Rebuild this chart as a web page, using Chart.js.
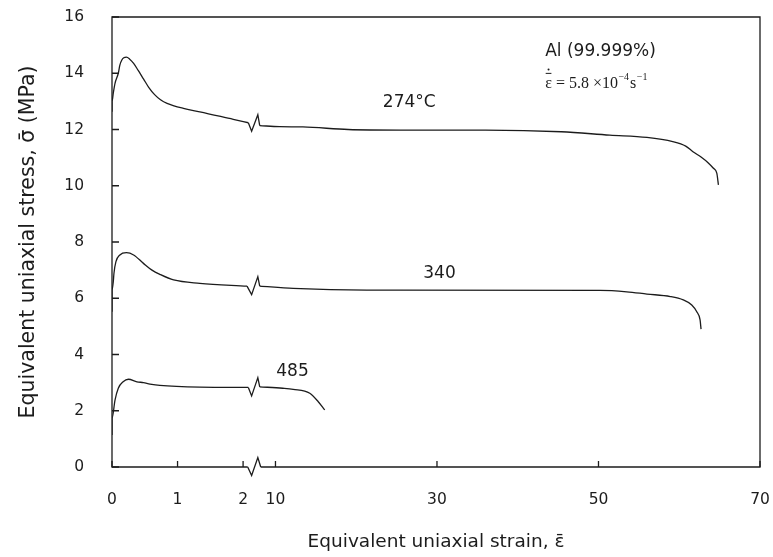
<!DOCTYPE html>
<html>
<head>
<meta charset="utf-8">
<title>Al (99.999%) stress-strain</title>
<script src="https://cdn.jsdelivr.net/npm/chart.js@4.4.1/dist/chart.umd.min.js"></script>
<style>
  html, body { margin: 0; padding: 0; background: #fff; }
</style>
</head>
<body>
<canvas id="myChart" width="773" height="557"></canvas>
<script>
// curves, null = the axis break
const strain274 = [0, 0, 0.02, 0.046, 0.096, 0.12, 0.15, 0.18, 0.22, 0.27, 0.33, 0.4, 0.48, 0.56, 0.65, 0.74, 0.84, 1.09, 1.34, 1.85, 2.08, null,
  8.05, 10.5, 13.4, 19, 25.5, 36, 45.4, 51.4, 56, 59.2, 60.8, 61.7, 62.7, 63.6, 64.2, 64.65, 64.85];
const stress274 = [12.63, 12.99, 13.3, 13.64, 14.0, 14.29, 14.47, 14.55, 14.57, 14.5, 14.35, 14.1, 13.8, 13.5, 13.24, 13.06, 12.93, 12.75, 12.63, 12.36, 12.24, null,
  12.14, 12.1, 12.09, 12.0, 11.98, 11.98, 11.92, 11.8, 11.72, 11.57, 11.41, 11.21, 11.02, 10.81, 10.63, 10.45, 10.03];

const strain340 = [0, 0, 0.02, 0.03, 0.06, 0.12, 0.22, 0.33, 0.48, 0.61, 0.73, 0.94, 1.34, 2.06, null,
  8.05, 12.2, 21.3, 25.4, 50.2, 53.5, 56.0, 58.9, 60.5, 61.55, 62.17, 62.58, 62.7];
const stress340 = [5.52, 6.29, 6.6, 6.89, 7.3, 7.54, 7.62, 7.54, 7.24, 7.0, 6.85, 6.65, 6.53, 6.43, null,
  6.43, 6.35, 6.29, 6.29, 6.28, 6.23, 6.15, 6.06, 5.94, 5.76, 5.52, 5.23, 4.9];

const strain485 = [0, 0, 0.046, 0.096, 0.17, 0.25, 0.38, 0.48, 0.58, 0.73, 1.34, 2.08, null,
  8.05, 10.9, 12.2, 14.25, 15.3, 16.1];
const stress485 = [1.14, 1.73, 2.38, 2.8, 3.03, 3.12, 3.03, 3.0, 2.95, 2.9, 2.84, 2.83, null,
  2.85, 2.8, 2.76, 2.62, 2.32, 2.03];

const curveNames = ['274°C', '340', '485'];
const xTickVals = [0, 1, 2, 10, 30, 50, 70];

// where the curve names sit (strain, stress)
const nameStrain = [23.3, 28.3, 10.1];
const nameStress = [12.81, 6.71, 3.24];

// broken x axis: 0..2.17 then 7.37..70 squeezed onto one linear scale
const breakLo = 2.17, breakHi = 7.37, rightRatio = 8.07 / 65.5;
function toU(e) {
  if (e === null) return null;
  return e <= breakLo ? e : breakLo + (e - breakHi) * rightRatio;
}
function pts(xs, ys) {
  return xs.map((e, i) => ({ x: toU(e), y: ys[i] }));
}

const ink = '#1c1c1c';
const sansFont = '"DejaVu Sans", sans-serif';

function zig(ctx, x0, y0, x1, y1, bx) {
  ctx.beginPath();
  ctx.moveTo(x0, y0);
  ctx.lineTo(bx - 2.6, y0 + 8.5);
  ctx.lineTo(bx + 3.6, (y0 + y1) / 2 - 9.5);
  ctx.lineTo(x1, y1);
  ctx.stroke();
}

function drawRate(ctx, x, yb) {
  ctx.textAlign = 'left';
  ctx.textBaseline = 'alphabetic';
  ctx.font = '16px "Liberation Serif", serif';
  let cx = x;
  const epsW = ctx.measureText('ε').width;
  ctx.fillText('ε', cx, yb);
  ctx.fillRect(cx + 0.5, yb - 15, epsW - 1, 1);
  ctx.beginPath();
  ctx.arc(cx + epsW / 2, yb - 18.5, 1, 0, Math.PI * 2);
  ctx.fill();
  cx += epsW;
  const main = ' = 5.8 \u00d710';
  ctx.fillText(main, cx, yb);
  cx += ctx.measureText(main).width;
  ctx.font = '10px "Liberation Serif", serif';
  ctx.fillText('\u22124', cx + 0.5, yb - 7.5);
  cx += ctx.measureText('\u22124').width + 1.5;
  ctx.font = '16px "Liberation Serif", serif';
  ctx.fillText('s', cx, yb);
  cx += ctx.measureText('s').width;
  ctx.font = '10px "Liberation Serif", serif';
  ctx.fillText('\u22121', cx + 0.5, yb - 7.5);
}

const decor = {
  id: 'decor',
  afterDatasetsDraw(chart) {
    const { ctx, chartArea: a, scales: { x, y } } = chart;
    const bx = x.getPixelForValue(toU(breakLo));
    ctx.save();
    ctx.strokeStyle = ink;
    ctx.fillStyle = ink;
    ctx.lineWidth = 1.3;

    // break marks on every curve
    [strain274, strain340, strain485].forEach((arr, di) => {
      const gi = arr.indexOf(null);
      const meta = chart.getDatasetMeta(di);
      const p0 = meta.data[gi - 1], p1 = meta.data[gi + 1];
      zig(ctx, p0.x, p0.y, p1.x, p1.y, bx);
    });

    // frame, bottom edge broken
    ctx.beginPath();
    ctx.moveTo(bx - 6.5, a.bottom);
    ctx.lineTo(a.left, a.bottom);
    ctx.lineTo(a.left, a.top);
    ctx.lineTo(a.right, a.top);
    ctx.lineTo(a.right, a.bottom);
    ctx.lineTo(bx + 6.5, a.bottom);
    ctx.stroke();
    zig(ctx, bx - 6.5, a.bottom, bx + 6.5, a.bottom, bx);

    // inward ticks
    ctx.beginPath();
    y.ticks.forEach(t => {
      const py = y.getPixelForValue(t.value);
      ctx.moveTo(a.left, py);
      ctx.lineTo(a.left + 7, py);
    });
    x.ticks.forEach(t => {
      const px = x.getPixelForValue(t.value);
      ctx.moveTo(px, a.bottom);
      ctx.lineTo(px, a.bottom - 6);
    });
    ctx.stroke();

    // curve names
    ctx.font = '17px ' + sansFont;
    ctx.textAlign = 'left';
    ctx.textBaseline = 'alphabetic';
    curveNames.forEach((n, i) => {
      ctx.fillText(n, x.getPixelForValue(toU(nameStrain[i])), y.getPixelForValue(nameStress[i]));
    });

    // material and rate
    const ax = x.getPixelForValue(toU(43.4));
    ctx.fillText('Al (99.999%)', ax, y.getPixelForValue(14.61));
    drawRate(ctx, ax, y.getPixelForValue(13.48));
    ctx.restore();
  }
};

const ctx = document.getElementById('myChart').getContext('2d');
const myChart = new Chart(ctx, {
  type: 'line',
  data: {
    datasets: [
      { label: curveNames[0], data: pts(strain274, stress274) },
      { label: curveNames[1], data: pts(strain340, stress340) },
      { label: curveNames[2], data: pts(strain485, stress485) }
    ]
  },
  options: {
    responsive: false,
    animation: false,
    devicePixelRatio: 1,
    layout: { padding: { top: 17, right: 13, left: 0, bottom: 0 } },
    plugins: { legend: { display: false }, tooltip: { enabled: false } },
    elements: {
      point: { radius: 0 },
      line: { borderColor: ink, borderWidth: 1.3, cubicInterpolationMode: 'monotone', fill: false }
    },
    spanGaps: false,
    scales: {
      x: {
        type: 'linear',
        min: 0,
        max: toU(70),
        grid: { display: false },
        border: { display: false },
        afterBuildTicks: s => { s.ticks = xTickVals.map(v => ({ value: toU(v) })); },
        // fixed box; drop the label overhang so the plot spans to 760px
        afterFit: s => { s.height = 90; s.paddingLeft = 0; s.paddingRight = 0; },
        ticks: {
          autoSkip: false, maxRotation: 0, padding: 16, color: ink,
          font: { family: sansFont, size: 15.5 },
          callback: (v, i) => xTickVals[i]
        },
        title: {
          display: true, text: 'Equivalent uniaxial strain, \u03b5\u0304', color: ink,
          font: { family: sansFont, size: 18.5 }, padding: { top: 0, bottom: 4 }
        }
      },
      y: {
        min: 0,
        max: 16,
        grid: { display: false },
        border: { display: false },
        afterFit: s => { s.width = 112; s.paddingTop = 0; s.paddingBottom = 0; },
        ticks: { stepSize: 2, padding: 20, color: ink, font: { family: sansFont, size: 15.5 } },
        title: {
          display: true, text: 'Equivalent uniaxial stress, \u03c3\u0304 (MPa)', color: ink,
          font: { family: sansFont, size: 20.5 }, padding: { top: 16, bottom: 0 }
        }
      }
    }
  },
  plugins: [decor]
});
</script>
</body>
</html>
